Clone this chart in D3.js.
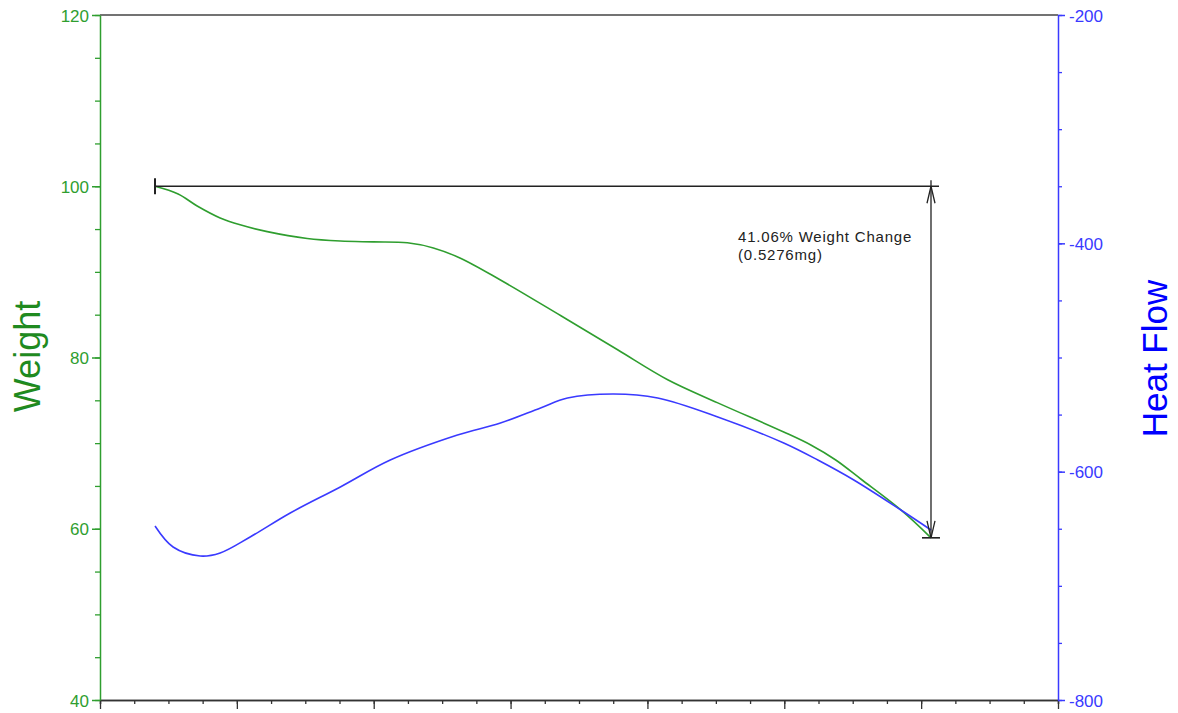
<!DOCTYPE html>
<html>
<head>
<meta charset="utf-8">
<script src="https://cdn.jsdelivr.net/npm/d3@7"></script>
<style>
    body { margin: 0; background: #fff; font-family: Arial, "Liberation Sans", sans-serif; }
    .axis text { font-family: Arial, "Liberation Sans", sans-serif; }
</style>
</head>
<body>
<div id="tga-chart"></div>
<script>

// temperature positions (arbitrary units, x axis has no labels)
let temperature = [40.2, 57.1, 71.0, 87.8, 102.4, 122.2, 151.4, 175.6, 199.7, 224.6, 243.6, 263.4,
    292.6, 336.5, 378.2, 414.8, 451.4, 499.6, 519.4, 537.6, 555.9, 585.2, 607.2];
// weight %
let weight = [100.0, 99.1, 97.7, 96.3, 95.5, 94.7, 93.9, 93.6, 93.5, 93.4, 92.8, 91.6,
    89.05, 84.9, 80.9, 77.4, 74.7, 71.3, 69.78, 68.03, 65.81, 62.2, 58.94];

let heatTemperature = [40.2, 53.4, 73.2, 87.8, 109.7, 139.0, 175.6, 212.1, 261.2, 292.6, 321.9,
    341.6, 375.3, 407.5, 451.4, 499.6, 524.5, 550.8, 585.2, 607.2];
let heatFlow = [-647.6, -666.0, -673.9, -671.2, -657.2, -636.2, -613.4, -589.8, -567.9, -557.4, -544.2,
    -535.5, -532.0, -535.5, -552.1, -574.9, -589.8, -607.3, -633.6, -651.1];

let weightTicks = [40, 60, 80, 100, 120];
let heatTicks = [-800, -600, -400, -200];

// weight change annotation
let changeStart = 40.2;
let changeEnd = 607.2;
let changeTop = 100.0;
let changeBottom = 58.94;
let changeLabel = ["41.06% Weight Change", "(0.5276mg)"];


class TgaVis {

    constructor(_parentElement) {
        this.parentElement = _parentElement;
        this.initVis();
    }

    /*
     * Initialize visualization (axes, frame)
     */
    initVis() {
        let vis = this;

        vis.margin = { top: 15, right: 120, bottom: 13, left: 100 };
        vis.width = 1178 - vis.margin.left - vis.margin.right;
        vis.height = 713 - vis.margin.top - vis.margin.bottom;

        vis.svg = d3.select("#" + vis.parentElement).append("svg")
            .attr("width", 1178)
            .attr("height", 713)
            .append("g")
            .attr("transform", "translate(" + vis.margin.left + "," + vis.margin.top + ")");

        vis.x = d3.scaleLinear().domain([0, 700]).range([0, vis.width]);
        vis.yW = d3.scaleLinear().domain([40, 120]).range([vis.height, 0]);
        vis.yH = d3.scaleLinear().domain([-800, -200]).range([vis.height, 0]);

        vis.green = "#2f9e2f";
        vis.blue = "#3a3aff";

        // top frame line
        vis.svg.append("line")
            .attr("x1", 0).attr("x2", vis.width)
            .attr("y1", 0).attr("y2", 0)
            .attr("stroke", "#444").attr("stroke-width", 1.5);

        // bottom axis: minor ticks then major, no labels
        vis.svg.append("g")
            .attr("class", "axis")
            .attr("transform", "translate(0," + vis.height + ")")
            .call(d3.axisBottom(vis.x).tickValues(d3.range(0, 701, 25)).tickSize(4).tickFormat(""))
            .call(g => g.selectAll("line, path").attr("stroke", "#333").attr("stroke-width", 1.3));
        vis.svg.append("g")
            .attr("class", "axis")
            .attr("transform", "translate(0," + vis.height + ")")
            .call(d3.axisBottom(vis.x).tickValues(d3.range(0, 701, 100)).tickSize(9).tickSizeOuter(0).tickFormat(""))
            .call(g => g.selectAll("line, path").attr("stroke", "#333").attr("stroke-width", 1.3));

        // left weight axis
        vis.svg.append("g")
            .attr("class", "axis")
            .call(d3.axisLeft(vis.yW).tickValues(d3.range(40, 121, 5)).tickSize(5).tickFormat(""))
            .call(g => g.selectAll("line").attr("stroke", vis.green).attr("stroke-width", 1.3))
            .call(g => g.select(".domain").remove());
        vis.svg.append("g")
            .attr("class", "axis")
            .call(d3.axisLeft(vis.yW).tickValues(weightTicks).tickSize(8).tickSizeOuter(0).tickPadding(3))
            .call(g => g.selectAll("line, path").attr("stroke", vis.green).attr("stroke-width", 1.5))
            .call(g => g.selectAll("text").attr("fill", vis.green).attr("font-size", 17).attr("dy", "0.36em"));

        // right heat flow axis (plain hyphen for negatives)
        vis.svg.append("g")
            .attr("class", "axis")
            .attr("transform", "translate(" + vis.width + ",0)")
            .call(d3.axisRight(vis.yH).tickValues(d3.range(-800, -199, 50)).tickSize(4).tickFormat(""))
            .call(g => g.selectAll("line").attr("stroke", vis.blue).attr("stroke-width", 1.3))
            .call(g => g.select(".domain").remove());
        vis.svg.append("g")
            .attr("class", "axis")
            .attr("transform", "translate(" + vis.width + ",0)")
            .call(d3.axisRight(vis.yH).tickValues(heatTicks).tickSize(7).tickSizeOuter(0).tickPadding(4)
                .tickFormat(d => String(d)))
            .call(g => g.selectAll("line, path").attr("stroke", vis.blue).attr("stroke-width", 1.5))
            .call(g => g.selectAll("text").attr("fill", vis.blue).attr("font-size", 17).attr("dy", "0.36em"));

        // axis titles
        vis.svg.append("text")
            .attr("transform", "translate(-60," + (vis.height / 2 - 1) + ") rotate(-90)")
            .attr("text-anchor", "middle")
            .attr("fill", "#1f8a1f")
            .attr("font-size", 36)
            .text("Weight");

        vis.svg.append("text")
            .attr("transform", "translate(" + (vis.width + 109) + "," + (vis.height / 2 + 1) + ") rotate(-90)")
            .attr("text-anchor", "middle")
            .attr("fill", "#0000ff")
            .attr("font-size", 35)
            .text("Heat Flow");

        vis.wrangleData();
    }

    /*
     * Data wrangling
     */
    wrangleData() {
        let vis = this;

        vis.weightData = temperature.map((t, i) => ({ t: t, v: weight[i] }));
        vis.heatData = heatTemperature.map((t, i) => ({ t: t, v: heatFlow[i] }));

        vis.updateVis();
    }

    /*
     * The drawing function
     */
    updateVis() {
        let vis = this;

        let weightLine = d3.line()
            .x(d => vis.x(d.t))
            .y(d => vis.yW(d.v))
            .curve(d3.curveCatmullRom);

        let heatLine = d3.line()
            .x(d => vis.x(d.t))
            .y(d => vis.yH(d.v))
            .curve(d3.curveCatmullRom);

        vis.svg.append("path")
            .datum(vis.weightData)
            .attr("fill", "none")
            .attr("stroke", vis.green)
            .attr("stroke-width", 1.6)
            .attr("d", weightLine);

        vis.svg.append("path")
            .datum(vis.heatData)
            .attr("fill", "none")
            .attr("stroke", vis.blue)
            .attr("stroke-width", 1.6)
            .attr("d", heatLine);

        // weight change marker
        let xs = vis.x(changeStart);
        let xe = vis.x(changeEnd);
        let yt = vis.yW(changeTop);
        let yb = vis.yW(changeBottom);
        let ink = "#222";

        let g = vis.svg.append("g")
            .attr("stroke", ink)
            .attr("stroke-width", 1.3)
            .attr("fill", "none");

        g.append("line").attr("x1", xs).attr("x2", xe + 8).attr("y1", yt).attr("y2", yt);
        g.append("line").attr("x1", xs).attr("x2", xs).attr("y1", yt - 8).attr("y2", yt + 8).attr("stroke-width", 2);
        g.append("line").attr("x1", xe).attr("x2", xe).attr("y1", yt - 6).attr("y2", yb);
        g.append("line").attr("x1", xe - 9).attr("x2", xe + 9).attr("y1", yb).attr("y2", yb).attr("stroke-width", 1.6);

        // open arrow heads at both ends
        g.append("path").attr("d", "M" + (xe - 4) + "," + (yt + 17) + "L" + xe + "," + yt + "L" + (xe + 4) + "," + (yt + 17));
        g.append("path").attr("d", "M" + (xe - 4) + "," + (yb - 17) + "L" + xe + "," + yb + "L" + (xe + 4) + "," + (yb - 17));

        let label = vis.svg.append("text")
            .attr("x", xe - 193)
            .attr("y", yt + 56)
            .attr("fill", ink)
            .attr("font-size", 15)
            .attr("letter-spacing", 0.8);

        label.selectAll("tspan")
            .data(changeLabel)
            .enter()
            .append("tspan")
            .attr("x", xe - 193)
            .attr("dy", (d, i) => i === 0 ? 0 : 18)
            .text(d => d);
    }
}

new TgaVis("tga-chart");

</script>
</body>
</html>
